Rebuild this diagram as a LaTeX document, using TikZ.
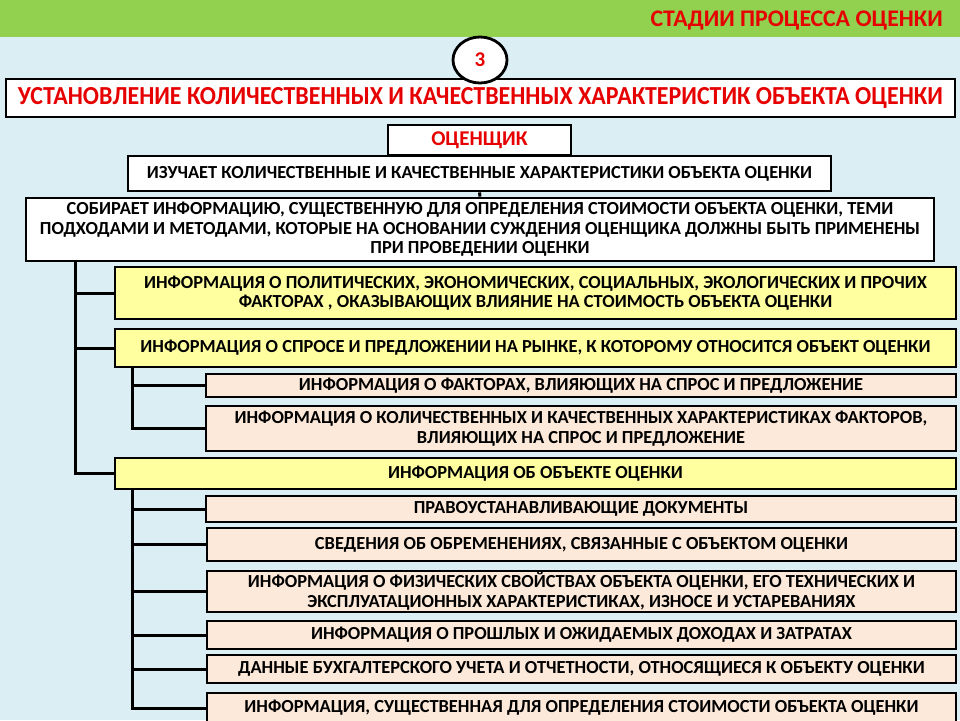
\documentclass[tikz,border=0pt]{standalone}
\usepackage{fontspec}
\setmainfont{Carlito}
\usetikzlibrary{shapes.geometric}
\definecolor{bgblue}{HTML}{DBEEF4}
\definecolor{hdrgreen}{HTML}{92D050}
\definecolor{ylw}{HTML}{FFFF9F}
\definecolor{pnk}{HTML}{FDE9D9}
\definecolor{rd}{HTML}{E60000}
\tikzset{
  box/.style={draw=black, line width=2.8pt, fill=white, inner sep=0pt, align=center,
    font=\bfseries\fontsize{18.4}{19.6}\selectfont},
  ybox/.style={box, fill=ylw},
  pbox/.style={box, fill=pnk},
  conn/.style={draw=black, line width=3pt},
}
\newcommand\bx[7]{\node[#6, minimum width={(#4-#2)*1pt}, minimum height={(#5-#3)*1pt}]
  (#1) at ({(#2+#4)/2},{(#3+#5)/2}) {#7};}
\begin{document}
\begin{tikzpicture}[x=1pt,y=-1pt]
\useasboundingbox (0,0) rectangle (960,720);
\fill[bgblue] (0,0) rectangle (960,720);
\fill[hdrgreen] (0,0) rectangle (960,37);
\node[anchor=east, text=rd, inner sep=0pt, font=\bfseries\fontsize{23.8}{25}\selectfont] (hdr) at (943,21) {СТАДИИ ПРОЦЕССА ОЦЕНКИ};
% title
\bx{title}{6}{79}{955}{117}{box}{\textcolor{rd}{\fontsize{26}{28}\selectfont\resizebox{925pt}{\height}{УСТАНОВЛЕНИЕ КОЛИЧЕСТВЕННЫХ И КАЧЕСТВЕННЫХ ХАРАКТЕРИСТИК ОБЪЕКТА ОЦЕНКИ}}}
\node[draw=black, line width=2.8pt, fill=white, ellipse, minimum width=54pt, minimum height=46pt, inner sep=0pt, text=rd, font=\bfseries\fontsize{21}{22}\selectfont] (num) at (480,60) {3};
% evaluator
\bx{ocen}{388}{125}{571}{155}{box}{\textcolor{rd}{\fontsize{21}{22}\selectfont ОЦЕНЩИК}}
\bx{izu}{128}{156}{831}{191}{box}{ИЗУЧАЕТ КОЛИЧЕСТВЕННЫЕ И КАЧЕСТВЕННЫЕ ХАРАКТЕРИСТИКИ ОБЪЕКТА ОЦЕНКИ}
\bx{sob}{26}{198}{934}{261}{box}{СОБИРАЕТ ИНФОРМАЦИЮ, СУЩЕСТВЕННУЮ ДЛЯ ОПРЕДЕЛЕНИЯ СТОИМОСТИ ОБЪЕКТА ОЦЕНКИ, ТЕМИ\\ПОДХОДАМИ И МЕТОДАМИ, КОТОРЫЕ НА ОСНОВАНИИ СУЖДЕНИЯ ОЦЕНЩИКА ДОЛЖНЫ БЫТЬ ПРИМЕНЕНЫ\\ПРИ ПРОВЕДЕНИИ ОЦЕНКИ}
\draw[conn] (izu.south) -- (sob.north);
% level 1
\bx{y1}{115}{267}{956}{319}{ybox}{ИНФОРМАЦИЯ О ПОЛИТИЧЕСКИХ, ЭКОНОМИЧЕСКИХ, СОЦИАЛЬНЫХ, ЭКОЛОГИЧЕСКИХ И ПРОЧИХ\\ФАКТОРАХ , ОКАЗЫВАЮЩИХ ВЛИЯНИЕ НА СТОИМОСТЬ ОБЪЕКТА ОЦЕНКИ}
\bx{y2}{115}{329}{956}{367}{ybox}{ИНФОРМАЦИЯ О СПРОСЕ И ПРЕДЛОЖЕНИИ НА РЫНКЕ, К КОТОРОМУ ОТНОСИТСЯ ОБЪЕКТ ОЦЕНКИ}
\bx{pa}{206}{374}{956}{397}{pbox}{ИНФОРМАЦИЯ О ФАКТОРАХ, ВЛИЯЮЩИХ НА СПРОС И ПРЕДЛОЖЕНИЕ}
\bx{pb}{206}{406}{956}{451}{pbox}{ИНФОРМАЦИЯ О КОЛИЧЕСТВЕННЫХ И КАЧЕСТВЕННЫХ ХАРАКТЕРИСТИКАХ ФАКТОРОВ,\\ВЛИЯЮЩИХ НА СПРОС И ПРЕДЛОЖЕНИЕ}
\bx{y3}{115}{458}{956}{489}{ybox}{ИНФОРМАЦИЯ ОБ ОБЪЕКТЕ ОЦЕНКИ}
\bx{c1}{206}{496}{956}{522}{pbox}{ПРАВОУСТАНАВЛИВАЮЩИЕ ДОКУМЕНТЫ}
\bx{c2}{207}{528}{956}{561}{pbox}{СВЕДЕНИЯ ОБ ОБРЕМЕНЕНИЯХ, СВЯЗАННЫЕ С ОБЪЕКТОМ ОЦЕНКИ}
\bx{c3}{207}{571}{956}{612}{pbox}{ИНФОРМАЦИЯ О ФИЗИЧЕСКИХ СВОЙСТВАХ ОБЪЕКТА ОЦЕНКИ, ЕГО ТЕХНИЧЕСКИХ И\\ЭКСПЛУАТАЦИОННЫХ ХАРАКТЕРИСТИКАХ, ИЗНОСЕ И УСТАРЕВАНИЯХ}
\bx{c4}{207}{621}{956}{649}{pbox}{ИНФОРМАЦИЯ О ПРОШЛЫХ И ОЖИДАЕМЫХ ДОХОДАХ И ЗАТРАТАХ}
\bx{c5}{207}{655}{956}{683}{pbox}{ДАННЫЕ БУХГАЛТЕРСКОГО УЧЕТА И ОТЧЕТНОСТИ, ОТНОСЯЩИЕСЯ К ОБЪЕКТУ ОЦЕНКИ}
\bx{c6}{207}{693}{956}{723}{pbox}{ИНФОРМАЦИЯ, СУЩЕСТВЕННАЯ ДЛЯ ОПРЕДЕЛЕНИЯ СТОИМОСТИ ОБЪЕКТА ОЦЕНКИ}
% trunks
\coordinate (t1) at (75,261);
\coordinate (t2) at (132,367);
\coordinate (t3) at (132,489);
\draw[conn] (t1) |- (y1.west);
\draw[conn] (t1) |- (y2.west);
\draw[conn] (t1) |- (y3.west);
\draw[conn] (t2) |- (pa.west);
\draw[conn] (t2) |- (pb.west);
\foreach \c in {c1,c2,c3,c4,c5,c6} \draw[conn] (t3) |- (\c.west);
\end{tikzpicture}
\end{document}
